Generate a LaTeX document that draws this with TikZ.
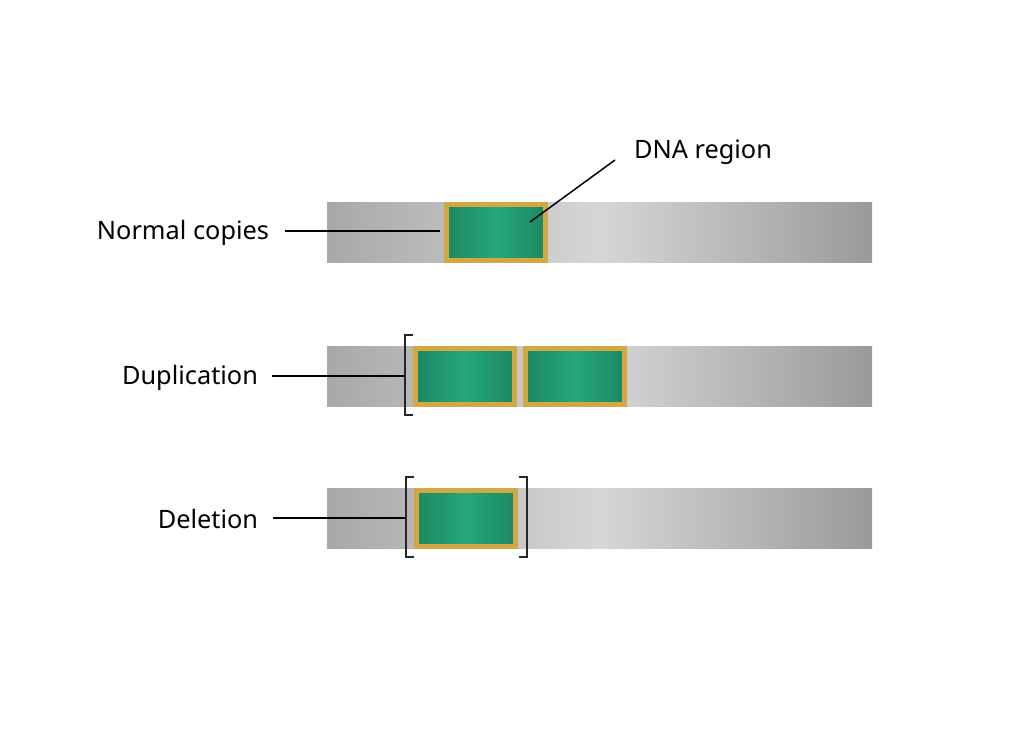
\documentclass[tikz,border=0pt]{standalone}
\usepackage{fontspec}
\setmainfont{Noto Sans}
\usetikzlibrary{positioning,calc}

\newcommand\pxu{0.75pt}
\definecolor{barL}{HTML}{A8A8A8}
\definecolor{barM}{HTML}{D6D6D6}
\definecolor{barR}{HTML}{9A9A9A}
\definecolor{geneD}{HTML}{1E8763}
\definecolor{geneL}{HTML}{24A87A}
\definecolor{goldrim}{HTML}{D4A840}

\tikzset{
  bar/.style={inner sep=0, minimum width=545*\pxu, minimum height=60*\pxu,
    left color=barL, right color=barR, middle color=barM},
  gene/.style={draw=goldrim, line width=5*\pxu, inner sep=0,
    minimum width=99*\pxu, minimum height=56*\pxu,
    left color=geneD, right color=geneD, middle color=geneL},
  tag/.style={font=\fontsize{19}{23}\selectfont, inner sep=0},
  lead/.style={line width=1.5*\pxu, black},
  brack/.style={line width=2*\pxu, black!85}
}

\begin{document}
\begin{tikzpicture}[x=0.75pt,y=-0.75pt]
  \useasboundingbox[fill=white] (0,0) rectangle (1024,747);

  % chromosome bars
  \node (bar1) at (599.5,232) [bar] {};
  \node (bar2) at (599.5,376) [bar] {};
  \node (bar3) at (599.5,518) [bar] {};

  % DNA regions
  \node (gene1) at (496,232) [gene] {};
  \node (dup1) at (464.5,376) [gene] {};
  \node (dup2) at (575,376) [gene] {};
  \node (del1) at (466,518) [gene] {};

  % labels
  \node (normal) at (183,233) [tag] {Normal copies};
  \node (dupl) at (190,378) [tag] {Duplication};
  \node (dele) at (208,519) [tag] {Deletion};
  \node (dna) at (703,152) [tag] {DNA region};

  % brackets
  \coordinate (dupB) at (405,376);
  \coordinate (delB) at (406,518);
  \coordinate (delE) at (527,518);
  \draw[brack] (413,335) -- (405,335) -- (405,415) -- (413,415);
  \draw[brack] (414,477) -- (406,477) -- (406,557) -- (414,557);
  \draw[brack] (519,477) -- (527,477) -- (527,557) -- (519,557);

  % leader lines
  \coordinate (dnatip) at (530,222);
  \draw[lead] (285,231) -- (440,231);
  \draw[lead] ($(dupl.east)+(14,-2)$) -- (dupB);
  \draw[lead] ($(dele.east)+(15,-1)$) -- (delB);
  \draw[lead] (615,160) -- (dnatip);
\end{tikzpicture}
\end{document}
